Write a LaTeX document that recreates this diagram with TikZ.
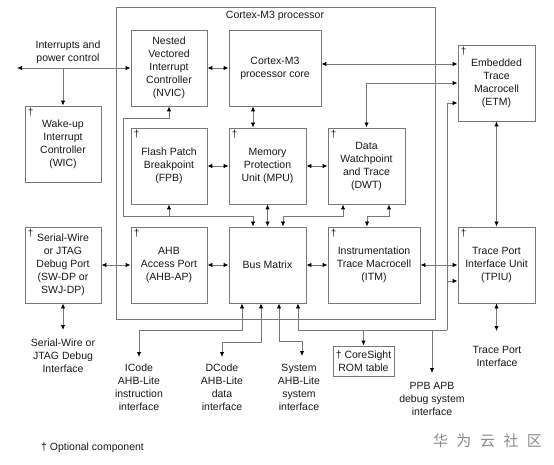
\documentclass[tikz,border=0pt]{standalone}
\usepackage{fontspec}
\setmainfont{Liberation Sans}
\newfontfamily\cjkfont{Noto Sans CJK SC}
\usetikzlibrary{arrows.meta}
\definecolor{linegray}{RGB}{120,120,120}
\definecolor{txt}{RGB}{25,25,25}
\newcommand\bodyfs{\fontsize{10.5}{13}\selectfont}
\begin{document}
\begin{tikzpicture}[x=1pt,y=-1pt,
  >={Latex[length=5pt,width=4.5pt,color=black]},
  box/.style={draw=linegray,line width=0.9pt,minimum height=76pt,align=center,inner sep=1pt,text=txt,font=\bodyfs},
  con/.style={draw=linegray,line width=0.9pt},
  lbl/.style={align=center,text=txt,font=\bodyfs,inner sep=0pt},
  dag/.style={anchor=north west,inner sep=3pt,text=txt,font=\fontsize{10}{10}\selectfont}]
\useasboundingbox[fill=white] (0,0) rectangle (554,465);

% processor outline
\node[draw=linegray,line width=0.9pt,minimum width=319pt,minimum height=312pt,inner sep=0pt] (proc) at (275.5,163) {};
\node[lbl] (proct) at (275,16) {Cortex-M3 processor};

% boxes
\node[box,minimum width=76pt] (nvic) at (169,68) {Nested\\Vectored\\Interrupt\\Controller\\(NVIC)};
\node[box,minimum width=92pt] (core) at (275,68) {Cortex-M3\\processor core};
\node[box,minimum width=76pt] (wic) at (63,144) {Wake-up\\Interrupt\\Controller\\(WIC)};
\node[box,minimum width=76pt] (fpb) at (169,166) {Flash Patch\\Breakpoint\\(FPB)};
\node[box,minimum width=77pt] (mpu) at (267.5,166) {Memory\\Protection\\Unit (MPU)};
\node[box,minimum width=77pt] (dwt) at (366.5,166) {Data\\Watchpoint\\and Trace\\(DWT)};
\node[box,minimum width=77pt] (etm) at (496.5,83) {Embedded\\Trace\\Macrocell\\(ETM)};
\node[box,minimum width=76pt] (swj) at (63,265) {Serial-Wire\\or JTAG\\Debug Port\\(SW-DP or\\SWJ-DP)};
\node[box,minimum width=76pt] (ahbap) at (169,265) {AHB\\Access Port\\(AHB-AP)};
\node[box,minimum width=77pt] (bus) at (267.5,265) {Bus Matrix};
\node[box,minimum width=92pt] (itm) at (374,265) {Instrumentation\\Trace Macrocell\\(ITM)};
\node[box,minimum width=77pt] (tpiu) at (496.5,265) {Trace Port\\Interface Unit\\(TPIU)};
\node[box,minimum width=61pt,minimum height=30pt] (cs) at (363.5,361) {† CoreSight\\ROM table};

\foreach \n in {wic,fpb,mpu,dwt,etm,swj,ahbap,itm,tpiu}
  \node[dag] (dag-\n) at (\n.north west) {†};

% interrupts
\coordinate (intL) at (17,68);
\draw[con,<->] (intL) -- (nvic.west);
\draw[con,->] (intL -| wic.north) -- (wic.north);
\node[lbl] (intlbl) at (68,52.5) {Interrupts and\\power control};

% top area connectors
\draw[con,<->] (nvic.east) -- (core.west);
\draw[con,<->] (core.east |- 0,64) -- (etm.west |- 0,64);
\draw[con,<->] (core.south -| 253,0) -- (mpu.north -| 253,0);
\draw[con,<->] (fpb.east) -- (mpu.west);
\draw[con,<->] (mpu.east) -- (dwt.west);
\draw[con,<->] (dwt.north) |- (etm.west);

% wrap line NVIC / FPB / Bus Matrix
\coordinate (w1) at (123,118);
\coordinate (w2) at (123,216);
\draw[con,<->] (nvic.south) |- (w1) -- (w2) -| (bus.north -| 253,0);
\draw[con,->] (fpb.south |- w2) -- (fpb.south);
\draw[con,<->] (mpu.south) -- (bus.north);
\coordinate (d1) at (343,216);
\draw[con,<->] (dwt.south -| d1) -- (d1) -| (bus.north -| 283,0);
\coordinate (d2) at (389,216.5);
\draw[con,<->] (dwt.south -| d2) -- (d2) -| (itm.north -| 367,0);

% second row
\draw[con,<->] (swj.east) -- (ahbap.west);
\draw[con,<->] (ahbap.east) -- (bus.west);
\draw[con,<->] (bus.east) -- (itm.west);
\draw[con,<->] (itm.east) -- (tpiu.west);
\draw[con,<->] (etm.south) -- (tpiu.north);

% external interfaces
\coordinate (tpEnd) at (496.5,331);
\draw[con,<->] (tpiu.south) -- (tpEnd);
\node[lbl] (tplbl) at (497,356.5) {Trace Port\\Interface};
\coordinate (swEnd) at (63,330);
\draw[con,<->] (swj.south) -- (swEnd);
\node[lbl] (swlbl) at (63,356) {Serial-Wire or\\JTAG Debug\\Interface};

\coordinate (icEnd) at (139,357);
\draw[con,<->] (bus.south -| 242,0) |- (icEnd |- 0,330) -- (icEnd);
\node[lbl] (iclbl) at (139,387) {ICode\\AHB-Lite\\instruction\\interface};
\coordinate (dcEnd) at (222,357);
\draw[con,<->] (bus.south -| 261,0) |- (dcEnd |- 0,342) -- (dcEnd);
\node[lbl] (dclbl) at (222,387) {DCode\\AHB-Lite\\data\\interface};
\coordinate (syEnd) at (302,356);
\draw[con,<->] (bus.south -| 279,0) |- (syEnd |- 0,341) -- (syEnd);
\node[lbl] (sylbl) at (299,387) {System\\AHB-Lite\\system\\interface};

% PPB network
\coordinate (j1) at (447,330);
\draw[con,->] (j1) -| (bus.south -| 298,0);
\draw[con,->] (j1) |- ([yshift=-20pt]etm.west);
\draw[con,->] (j1 |- 0,281) -- (tpiu.west |- 0,281);
\draw[con,->] (cs.north |- j1) -- (cs.north);
\coordinate (ppbEnd) at (432,373);
\draw[con,->] (ppbEnd |- j1) -- (ppbEnd);
\node[lbl] (ppblbl) at (432,398.5) {PPB APB\\debug system\\interface};

% footnote and watermark
\node[lbl,anchor=west] (foot) at (41,448) {† Optional component};
\node[text=black!45,font=\cjkfont\fontsize{15}{15}\selectfont,inner sep=0pt] (wm) at (487.5,441) {华\hspace{8.5pt}为\hspace{8.5pt}云\hspace{8.5pt}社\hspace{8.5pt}区};
\end{tikzpicture}
\end{document}
